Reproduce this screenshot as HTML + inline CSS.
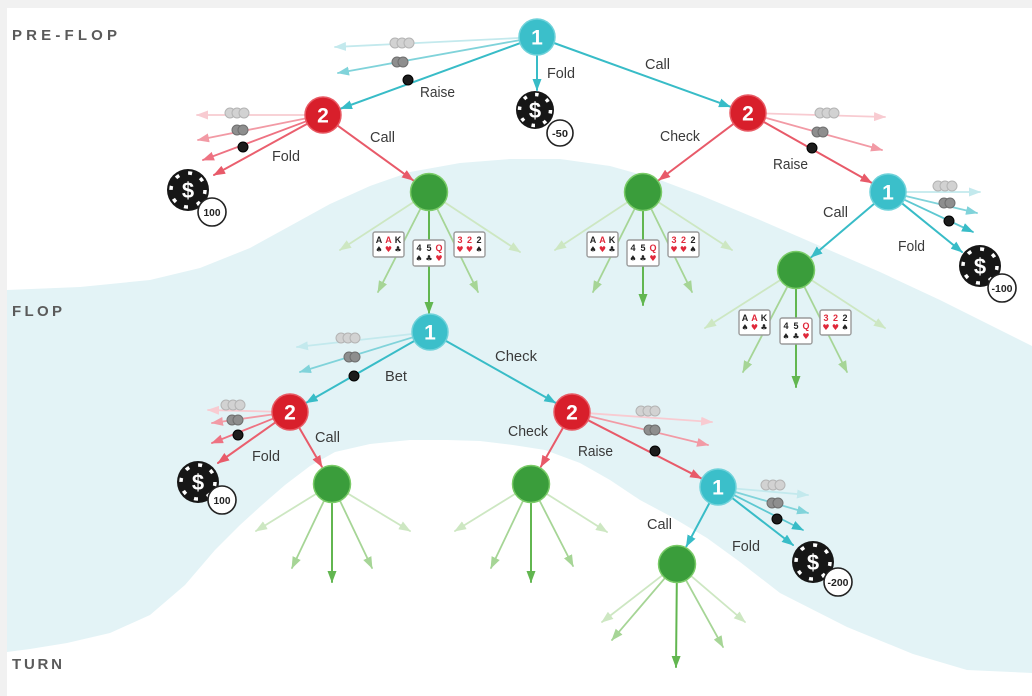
<!DOCTYPE html>
<html><head><meta charset="utf-8"><style>
html,body{margin:0;padding:0;background:#fff;}
svg{display:block;}
.lbl{font-family:"Liberation Sans",Arial,sans-serif;font-size:15px;fill:#3a3a3a;}
.sec{font-family:"Liberation Sans",Arial,sans-serif;font-size:15px;font-weight:bold;fill:#5a5a5a;}
.num{font-family:"Liberation Sans",Arial,sans-serif;font-size:21px;font-weight:bold;fill:#fff;text-anchor:middle;}
.dol{font-family:"Liberation Sans",Arial,sans-serif;font-size:22px;font-weight:bold;fill:#fff;text-anchor:middle;}
.bdg{font-family:"Liberation Sans",Arial,sans-serif;font-size:10px;font-weight:bold;fill:#222;text-anchor:middle;}
.r{font-family:"Liberation Sans",Arial,sans-serif;font-size:9px;font-weight:bold;text-anchor:middle;}
.s{font-family:"DejaVu Sans",sans-serif;font-size:8px;text-anchor:middle;}
.k{fill:#222;} .h{fill:#e0283a;}
</style></head><body>
<svg width="1032" height="696" viewBox="0 0 1032 696" xmlns="http://www.w3.org/2000/svg">
<defs>
<marker id="cD" viewBox="0 0 12 9" refX="11" refY="4.5" markerWidth="12" markerHeight="9" orient="auto" markerUnits="userSpaceOnUse"><path d="M0,0 L12,4.5 L0,9 z" fill="#38bcc7"/></marker>
<marker id="cM" viewBox="0 0 12 9" refX="11" refY="4.5" markerWidth="12" markerHeight="9" orient="auto" markerUnits="userSpaceOnUse"><path d="M0,0 L12,4.5 L0,9 z" fill="#80d3da"/></marker>
<marker id="cL" viewBox="0 0 12 9" refX="11" refY="4.5" markerWidth="12" markerHeight="9" orient="auto" markerUnits="userSpaceOnUse"><path d="M0,0 L12,4.5 L0,9 z" fill="#c3e9ed"/></marker>
<marker id="rD" viewBox="0 0 12 9" refX="11" refY="4.5" markerWidth="12" markerHeight="9" orient="auto" markerUnits="userSpaceOnUse"><path d="M0,0 L12,4.5 L0,9 z" fill="#e85a69"/></marker>
<marker id="rF" viewBox="0 0 12 9" refX="11" refY="4.5" markerWidth="12" markerHeight="9" orient="auto" markerUnits="userSpaceOnUse"><path d="M0,0 L12,4.5 L0,9 z" fill="#ee7282"/></marker>
<marker id="rM" viewBox="0 0 12 9" refX="11" refY="4.5" markerWidth="12" markerHeight="9" orient="auto" markerUnits="userSpaceOnUse"><path d="M0,0 L12,4.5 L0,9 z" fill="#f29aa5"/></marker>
<marker id="rL" viewBox="0 0 12 9" refX="11" refY="4.5" markerWidth="12" markerHeight="9" orient="auto" markerUnits="userSpaceOnUse"><path d="M0,0 L12,4.5 L0,9 z" fill="#f8cbd1"/></marker>
<marker id="gD" viewBox="0 0 12 9" refX="11" refY="4.5" markerWidth="12" markerHeight="9" orient="auto" markerUnits="userSpaceOnUse"><path d="M0,0 L12,4.5 L0,9 z" fill="#62b650"/></marker>
<marker id="gM" viewBox="0 0 12 9" refX="11" refY="4.5" markerWidth="12" markerHeight="9" orient="auto" markerUnits="userSpaceOnUse"><path d="M0,0 L12,4.5 L0,9 z" fill="#a6d596"/></marker>
<marker id="gL" viewBox="0 0 12 9" refX="11" refY="4.5" markerWidth="12" markerHeight="9" orient="auto" markerUnits="userSpaceOnUse"><path d="M0,0 L12,4.5 L0,9 z" fill="#cde7c2"/></marker>
</defs>

<!-- frame -->
<rect x="0" y="0" width="1032" height="696" fill="#ffffff"/>
<rect x="0" y="0" width="1032" height="8" fill="#f1f1f1"/>
<rect x="0" y="0" width="7" height="696" fill="#f1f1f1"/>

<!-- blue band -->
<path fill="#e3f3f6" d="M7,290 L80,287 L150,280 L200,268 L250,248 L290,226 L330,204 L370,186 L410,172 L460,163 L510,159 L560,159 L610,166 L660,180 L700,195 L760,220 L820,246 L880,272 L940,300 L1000,330 L1032,346
L1032,673 L967,670 L913,654 L847,627 L780,593 L740,562 L707,538 L670,516 L640,500 L610,480 L580,463 L545,450 L513,445 L480,441 L447,440 L410,440 L370,444 L335,452 L310,466 L285,485 L262,505 L240,525 L215,550 L185,585 L150,615 L110,633 L67,643 L30,649 L7,652 Z"/>

<!-- section labels -->
<text class="sec" x="12" y="40" textLength="105" lengthAdjust="spacing">PRE-FLOP</text>
<text class="sec" x="12" y="316" textLength="50" lengthAdjust="spacing">FLOP</text>
<text class="sec" x="12" y="669" textLength="50" lengthAdjust="spacing">TURN</text>

<g fill="none" stroke-linecap="round">
<!-- A: P1 top -->
<line x1="519" y1="38" x2="335" y2="47" stroke="#c3e9ed" stroke-width="1.8" marker-end="url(#cL)"/>
<line x1="519.3" y1="40.2" x2="338" y2="73" stroke="#80d3da" stroke-width="1.8" marker-end="url(#cM)"/>
<line x1="520" y1="43.2" x2="341" y2="108.5" stroke="#38bcc7" stroke-width="2" marker-end="url(#cD)"/>
<line x1="537" y1="55" x2="537" y2="90" stroke="#38bcc7" stroke-width="2" marker-end="url(#cD)"/>
<line x1="554" y1="43" x2="730" y2="106.6" stroke="#38bcc7" stroke-width="2" marker-end="url(#cD)"/>

<!-- B: R2 left -->
<line x1="305" y1="115" x2="197" y2="115" stroke="#f8cbd1" stroke-width="1.8" marker-end="url(#rL)"/>
<line x1="305.3" y1="118.5" x2="198" y2="140" stroke="#f29aa5" stroke-width="1.8" marker-end="url(#rM)"/>
<line x1="306.2" y1="121.3" x2="203" y2="160" stroke="#ee7282" stroke-width="1.8" marker-end="url(#rF)"/>
<line x1="307.3" y1="123.7" x2="214" y2="175" stroke="#ea5f6e" stroke-width="2" marker-end="url(#rD)"/>
<line x1="337.6" y1="125.6" x2="413" y2="180.2" stroke="#e85a69" stroke-width="2" marker-end="url(#rD)"/>

<!-- C: R2 right -->
<line x1="733.6" y1="123.8" x2="659" y2="180" stroke="#e85a69" stroke-width="2" marker-end="url(#rD)"/>
<line x1="766" y1="113.5" x2="885" y2="117" stroke="#f8cbd1" stroke-width="1.8" marker-end="url(#rL)"/>
<line x1="765.4" y1="117.8" x2="882" y2="150" stroke="#f29aa5" stroke-width="1.8" marker-end="url(#rM)"/>
<line x1="763.7" y1="121.9" x2="871.5" y2="182.7" stroke="#e85a69" stroke-width="2" marker-end="url(#rD)"/>

<!-- D: P1 right -->
<line x1="906" y1="192" x2="980" y2="192" stroke="#c3e9ed" stroke-width="1.8" marker-end="url(#cL)"/>
<line x1="905.5" y1="196" x2="977" y2="213" stroke="#80d3da" stroke-width="1.8" marker-end="url(#cM)"/>
<line x1="904.3" y1="199.7" x2="973" y2="232" stroke="#5ec8d1" stroke-width="1.8" marker-end="url(#cD)"/>
<line x1="902" y1="203.3" x2="962" y2="252" stroke="#38bcc7" stroke-width="2" marker-end="url(#cD)"/>
<line x1="874.3" y1="203.6" x2="811.3" y2="257.1" stroke="#38bcc7" stroke-width="2" marker-end="url(#cD)"/>

<!-- G1 fan -->
<line x1="413.1" y1="202.4" x2="340" y2="250" stroke="#cde7c2" stroke-width="1.8" marker-end="url(#gL)"/>
<line x1="420.4" y1="208.9" x2="378" y2="292" stroke="#a6d596" stroke-width="1.8" marker-end="url(#gM)"/>
<line x1="429" y1="211" x2="429" y2="313" stroke="#62b650" stroke-width="2" marker-end="url(#gD)"/>
<line x1="437.4" y1="209.1" x2="478" y2="292" stroke="#a6d596" stroke-width="1.8" marker-end="url(#gM)"/>
<line x1="444.9" y1="202.5" x2="520" y2="252" stroke="#cde7c2" stroke-width="1.8" marker-end="url(#gL)"/>

<!-- G2 fan -->
<line x1="626.3" y1="203" x2="555" y2="250" stroke="#cde7c2" stroke-width="1.8" marker-end="url(#gL)"/>
<line x1="634.1" y1="209.9" x2="593" y2="292" stroke="#a6d596" stroke-width="1.8" marker-end="url(#gM)"/>
<line x1="643" y1="211" x2="643" y2="305" stroke="#62b650" stroke-width="2" marker-end="url(#gD)"/>
<line x1="651.8" y1="210" x2="692" y2="292" stroke="#a6d596" stroke-width="1.8" marker-end="url(#gM)"/>
<line x1="659.8" y1="203" x2="732" y2="250" stroke="#cde7c2" stroke-width="1.8" marker-end="url(#gL)"/>

<!-- G3 fan -->
<line x1="780" y1="280.2" x2="705" y2="328" stroke="#cde7c2" stroke-width="1.8" marker-end="url(#gL)"/>
<line x1="787.2" y1="286.9" x2="743" y2="372" stroke="#a6d596" stroke-width="1.8" marker-end="url(#gM)"/>
<line x1="796" y1="289" x2="796" y2="387" stroke="#62b650" stroke-width="2" marker-end="url(#gD)"/>
<line x1="804.5" y1="287" x2="847" y2="372" stroke="#a6d596" stroke-width="1.8" marker-end="url(#gM)"/>
<line x1="811.9" y1="280.4" x2="885" y2="328" stroke="#cde7c2" stroke-width="1.8" marker-end="url(#gL)"/>

<!-- E: P1 flop -->
<line x1="412.1" y1="334" x2="297" y2="347" stroke="#c3e9ed" stroke-width="1.8" marker-end="url(#cL)"/>
<line x1="412.8" y1="337.3" x2="300" y2="372" stroke="#80d3da" stroke-width="1.8" marker-end="url(#cM)"/>
<line x1="414.4" y1="340.9" x2="306.5" y2="402.6" stroke="#38bcc7" stroke-width="2" marker-end="url(#cD)"/>
<line x1="445.7" y1="340.8" x2="555.4" y2="402.7" stroke="#38bcc7" stroke-width="2" marker-end="url(#cD)"/>

<!-- F: R2 flop left -->
<line x1="272" y1="411.6" x2="208" y2="410" stroke="#f8cbd1" stroke-width="1.8" marker-end="url(#rL)"/>
<line x1="272.2" y1="414.5" x2="212" y2="423" stroke="#f29aa5" stroke-width="1.8" marker-end="url(#rM)"/>
<line x1="273.3" y1="418.6" x2="212" y2="443" stroke="#ee7282" stroke-width="1.8" marker-end="url(#rF)"/>
<line x1="275.3" y1="422.4" x2="218" y2="463" stroke="#ea5f6e" stroke-width="2" marker-end="url(#rD)"/>
<line x1="299.1" y1="427.5" x2="321.9" y2="466.7" stroke="#e85a69" stroke-width="2" marker-end="url(#rD)"/>

<!-- H: R2 flop right -->
<line x1="563.1" y1="427.6" x2="540.9" y2="466.6" stroke="#e85a69" stroke-width="2" marker-end="url(#rD)"/>
<line x1="590" y1="413.3" x2="712" y2="422" stroke="#f8cbd1" stroke-width="1.8" marker-end="url(#rL)"/>
<line x1="589.5" y1="416.2" x2="708" y2="445" stroke="#f29aa5" stroke-width="1.8" marker-end="url(#rM)"/>
<line x1="588" y1="420.2" x2="701.1" y2="478.3" stroke="#e85a69" stroke-width="2" marker-end="url(#rD)"/>

<!-- I: P1 turn -->
<line x1="736" y1="488.6" x2="808" y2="495" stroke="#c3e9ed" stroke-width="1.8" marker-end="url(#cL)"/>
<line x1="735.3" y1="492" x2="808" y2="513" stroke="#80d3da" stroke-width="1.8" marker-end="url(#cM)"/>
<line x1="734.1" y1="495.1" x2="803" y2="530" stroke="#5ec8d1" stroke-width="1.8" marker-end="url(#cD)"/>
<line x1="732.2" y1="498" x2="793" y2="545" stroke="#38bcc7" stroke-width="2" marker-end="url(#cD)"/>
<line x1="709.5" y1="502.9" x2="686.4" y2="546.3" stroke="#38bcc7" stroke-width="2" marker-end="url(#cD)"/>

<!-- G4 fan -->
<line x1="315.9" y1="494" x2="256" y2="531" stroke="#cde7c2" stroke-width="1.8" marker-end="url(#gL)"/>
<line x1="323.8" y1="501.2" x2="292" y2="568" stroke="#a6d596" stroke-width="1.8" marker-end="url(#gM)"/>
<line x1="332" y1="503" x2="332" y2="582" stroke="#62b650" stroke-width="2" marker-end="url(#gD)"/>
<line x1="340.2" y1="501.2" x2="372" y2="568" stroke="#a6d596" stroke-width="1.8" marker-end="url(#gM)"/>
<line x1="348.3" y1="493.8" x2="410" y2="531" stroke="#cde7c2" stroke-width="1.8" marker-end="url(#gL)"/>

<!-- G5 fan -->
<line x1="514.9" y1="494" x2="455" y2="531" stroke="#cde7c2" stroke-width="1.8" marker-end="url(#gL)"/>
<line x1="522.8" y1="501.2" x2="491" y2="568" stroke="#a6d596" stroke-width="1.8" marker-end="url(#gM)"/>
<line x1="531" y1="503" x2="531" y2="582" stroke="#62b650" stroke-width="2" marker-end="url(#gD)"/>
<line x1="539.7" y1="500.9" x2="573" y2="566" stroke="#a6d596" stroke-width="1.8" marker-end="url(#gM)"/>
<line x1="547.1" y1="494.1" x2="607" y2="532" stroke="#cde7c2" stroke-width="1.8" marker-end="url(#gL)"/>

<!-- G6 fan -->
<line x1="662" y1="575.6" x2="602" y2="622" stroke="#cde7c2" stroke-width="1.8" marker-end="url(#gL)"/>
<line x1="664.6" y1="578.4" x2="612" y2="640" stroke="#a6d596" stroke-width="1.8" marker-end="url(#gM)"/>
<line x1="676.8" y1="583" x2="676" y2="667" stroke="#62b650" stroke-width="2" marker-end="url(#gD)"/>
<line x1="686.2" y1="580.6" x2="723" y2="647" stroke="#a6d596" stroke-width="1.8" marker-end="url(#gM)"/>
<line x1="691.5" y1="576.3" x2="745" y2="622" stroke="#cde7c2" stroke-width="1.8" marker-end="url(#gL)"/>
</g>

<!-- small chip stacks: light(3), medium(2), black(1) -->
<g stroke-width="1">
<!-- A -->
<g fill="#d2d2d2" stroke="#b4b4b4"><circle cx="395" cy="43" r="5"/><circle cx="402" cy="43" r="5"/><circle cx="409" cy="43" r="5"/></g>
<g fill="#8e8e8e" stroke="#6e6e6e"><circle cx="397" cy="62" r="5"/><circle cx="403" cy="62" r="5"/></g>
<circle cx="408" cy="80" r="5" fill="#1c1c1c" stroke="#000"/>
<!-- B -->
<g fill="#d2d2d2" stroke="#b4b4b4"><circle cx="230" cy="113" r="5"/><circle cx="237" cy="113" r="5"/><circle cx="244" cy="113" r="5"/></g>
<g fill="#8e8e8e" stroke="#6e6e6e"><circle cx="237" cy="130" r="5"/><circle cx="243" cy="130" r="5"/></g>
<circle cx="243" cy="147" r="5" fill="#1c1c1c" stroke="#000"/>
<!-- C -->
<g fill="#d2d2d2" stroke="#b4b4b4"><circle cx="820" cy="113" r="5"/><circle cx="827" cy="113" r="5"/><circle cx="834" cy="113" r="5"/></g>
<g fill="#8e8e8e" stroke="#6e6e6e"><circle cx="817" cy="132" r="5"/><circle cx="823" cy="132" r="5"/></g>
<circle cx="812" cy="148" r="5" fill="#1c1c1c" stroke="#000"/>
<!-- D -->
<g fill="#d2d2d2" stroke="#b4b4b4"><circle cx="938" cy="186" r="5"/><circle cx="945" cy="186" r="5"/><circle cx="952" cy="186" r="5"/></g>
<g fill="#8e8e8e" stroke="#6e6e6e"><circle cx="944" cy="203" r="5"/><circle cx="950" cy="203" r="5"/></g>
<circle cx="949" cy="221" r="5" fill="#1c1c1c" stroke="#000"/>
<!-- E -->
<g fill="#d2d2d2" stroke="#b4b4b4"><circle cx="341" cy="338" r="5"/><circle cx="348" cy="338" r="5"/><circle cx="355" cy="338" r="5"/></g>
<g fill="#8e8e8e" stroke="#6e6e6e"><circle cx="349" cy="357" r="5"/><circle cx="355" cy="357" r="5"/></g>
<circle cx="354" cy="376" r="5" fill="#1c1c1c" stroke="#000"/>
<!-- F -->
<g fill="#d2d2d2" stroke="#b4b4b4"><circle cx="226" cy="405" r="5"/><circle cx="233" cy="405" r="5"/><circle cx="240" cy="405" r="5"/></g>
<g fill="#8e8e8e" stroke="#6e6e6e"><circle cx="232" cy="420" r="5"/><circle cx="238" cy="420" r="5"/></g>
<circle cx="238" cy="435" r="5" fill="#1c1c1c" stroke="#000"/>
<!-- H -->
<g fill="#d2d2d2" stroke="#b4b4b4"><circle cx="641" cy="411" r="5"/><circle cx="648" cy="411" r="5"/><circle cx="655" cy="411" r="5"/></g>
<g fill="#8e8e8e" stroke="#6e6e6e"><circle cx="649" cy="430" r="5"/><circle cx="655" cy="430" r="5"/></g>
<circle cx="655" cy="451" r="5" fill="#1c1c1c" stroke="#000"/>
<!-- I -->
<g fill="#d2d2d2" stroke="#b4b4b4"><circle cx="766" cy="485" r="5"/><circle cx="773" cy="485" r="5"/><circle cx="780" cy="485" r="5"/></g>
<g fill="#8e8e8e" stroke="#6e6e6e"><circle cx="772" cy="503" r="5"/><circle cx="778" cy="503" r="5"/></g>
<circle cx="777" cy="519" r="5" fill="#1c1c1c" stroke="#000"/>
</g>

<!-- money chips -->
<g>
<circle cx="535" cy="110" r="19" fill="#161616"/>
<circle cx="535" cy="110" r="15.5" fill="none" stroke="#fff" stroke-width="3.5" stroke-dasharray="3.5 8.67"/>
<text class="dol" x="535" y="118">$</text>
<circle cx="560" cy="133" r="13" fill="#fff" stroke="#222" stroke-width="1.6"/>
<text class="bdg" x="560" y="137" textLength="16" lengthAdjust="spacingAndGlyphs">-50</text>

<circle cx="188" cy="190" r="21" fill="#161616"/>
<circle cx="188" cy="190" r="17" fill="none" stroke="#fff" stroke-width="3.5" stroke-dasharray="4 9.35"/>
<text class="dol" x="188" y="198">$</text>
<circle cx="212" cy="212" r="14" fill="#fff" stroke="#222" stroke-width="1.6"/>
<text class="bdg" x="212" y="216" textLength="17" lengthAdjust="spacingAndGlyphs">100</text>

<circle cx="980" cy="266" r="21" fill="#161616"/>
<circle cx="980" cy="266" r="17" fill="none" stroke="#fff" stroke-width="3.5" stroke-dasharray="4 9.35"/>
<text class="dol" x="980" y="274">$</text>
<circle cx="1002" cy="288" r="14" fill="#fff" stroke="#222" stroke-width="1.6"/>
<text class="bdg" x="1002" y="292" textLength="21" lengthAdjust="spacingAndGlyphs">-100</text>

<circle cx="198" cy="482" r="21" fill="#161616"/>
<circle cx="198" cy="482" r="17" fill="none" stroke="#fff" stroke-width="3.5" stroke-dasharray="4 9.35"/>
<text class="dol" x="198" y="490">$</text>
<circle cx="222" cy="500" r="14" fill="#fff" stroke="#222" stroke-width="1.6"/>
<text class="bdg" x="222" y="504" textLength="17" lengthAdjust="spacingAndGlyphs">100</text>

<circle cx="813" cy="562" r="21" fill="#161616"/>
<circle cx="813" cy="562" r="17" fill="none" stroke="#fff" stroke-width="3.5" stroke-dasharray="4 9.35"/>
<text class="dol" x="813" y="570">$</text>
<circle cx="838" cy="582" r="14" fill="#fff" stroke="#222" stroke-width="1.6"/>
<text class="bdg" x="838" y="586" textLength="21" lengthAdjust="spacingAndGlyphs">-200</text>
</g>

<!-- nodes -->
<g>
<circle cx="537" cy="37" r="18" fill="#3bbfca" stroke="#6fd2da" stroke-width="1.5"/><text class="num" x="537" y="44.5">1</text>
<circle cx="323" cy="115" r="18" fill="#d81f2b" stroke="#e85a64" stroke-width="1.5"/><text class="num" x="323" y="122.5">2</text>
<circle cx="748" cy="113" r="18" fill="#d81f2b" stroke="#e85a64" stroke-width="1.5"/><text class="num" x="748" y="120.5">2</text>
<circle cx="888" cy="192" r="18" fill="#3bbfca" stroke="#6fd2da" stroke-width="1.5"/><text class="num" x="888" y="199.5">1</text>
<circle cx="430" cy="332" r="18" fill="#3bbfca" stroke="#6fd2da" stroke-width="1.5"/><text class="num" x="430" y="339.5">1</text>
<circle cx="290" cy="412" r="18" fill="#d81f2b" stroke="#e85a64" stroke-width="1.5"/><text class="num" x="290" y="419.5">2</text>
<circle cx="572" cy="412" r="18" fill="#d81f2b" stroke="#e85a64" stroke-width="1.5"/><text class="num" x="572" y="419.5">2</text>
<circle cx="718" cy="487" r="18" fill="#3bbfca" stroke="#6fd2da" stroke-width="1.5"/><text class="num" x="718" y="494.5">1</text>

<circle cx="429" cy="192" r="18.5" fill="#3a9d3b" stroke="#7acb68" stroke-width="1.5"/>
<circle cx="643" cy="192" r="18.5" fill="#3a9d3b" stroke="#7acb68" stroke-width="1.5"/>
<circle cx="796" cy="270" r="18.5" fill="#3a9d3b" stroke="#7acb68" stroke-width="1.5"/>
<circle cx="332" cy="484" r="18.5" fill="#3a9d3b" stroke="#7acb68" stroke-width="1.5"/>
<circle cx="531" cy="484" r="18.5" fill="#3a9d3b" stroke="#7acb68" stroke-width="1.5"/>
<circle cx="677" cy="564" r="18.5" fill="#3a9d3b" stroke="#7acb68" stroke-width="1.5"/>
</g>

<!-- edge labels -->
<g class="lbl">
<text class="lbl" x="420" y="97" textLength="35" lengthAdjust="spacingAndGlyphs">Raise</text>
<text class="lbl" x="547" y="78" textLength="28" lengthAdjust="spacingAndGlyphs">Fold</text>
<text class="lbl" x="645" y="69" textLength="25" lengthAdjust="spacingAndGlyphs">Call</text>
<text class="lbl" x="272" y="161" textLength="28" lengthAdjust="spacingAndGlyphs">Fold</text>
<text class="lbl" x="370" y="142" textLength="25" lengthAdjust="spacingAndGlyphs">Call</text>
<text class="lbl" x="660" y="141" textLength="40" lengthAdjust="spacingAndGlyphs">Check</text>
<text class="lbl" x="773" y="169" textLength="35" lengthAdjust="spacingAndGlyphs">Raise</text>
<text class="lbl" x="823" y="217" textLength="25" lengthAdjust="spacingAndGlyphs">Call</text>
<text class="lbl" x="898" y="251" textLength="27" lengthAdjust="spacingAndGlyphs">Fold</text>
<text class="lbl" x="385" y="381" textLength="22" lengthAdjust="spacingAndGlyphs">Bet</text>
<text class="lbl" x="495" y="361" textLength="42" lengthAdjust="spacingAndGlyphs">Check</text>
<text class="lbl" x="252" y="461" textLength="28" lengthAdjust="spacingAndGlyphs">Fold</text>
<text class="lbl" x="315" y="442" textLength="25" lengthAdjust="spacingAndGlyphs">Call</text>
<text class="lbl" x="508" y="436" textLength="40" lengthAdjust="spacingAndGlyphs">Check</text>
<text class="lbl" x="578" y="456" textLength="35" lengthAdjust="spacingAndGlyphs">Raise</text>
<text class="lbl" x="647" y="529" textLength="25" lengthAdjust="spacingAndGlyphs">Call</text>
<text class="lbl" x="732" y="551" textLength="28" lengthAdjust="spacingAndGlyphs">Fold</text>
</g>

<!-- cards: G1 -->
<g>
<rect x="373" y="232" width="31" height="25" rx="2" fill="#fff" stroke="#9a9a9a" stroke-width="1.4"/>
<text class="r k" x="379" y="243">A</text><text class="s k" x="379" y="252">♠</text>
<text class="r h" x="388.5" y="243">A</text><text class="s h" x="388.5" y="252">♥</text>
<text class="r k" x="398" y="243">K</text><text class="s k" x="398" y="252">♣</text>

<rect x="413" y="240" width="32" height="26" rx="2" fill="#fff" stroke="#9a9a9a" stroke-width="1.4"/>
<text class="r k" x="419" y="251">4</text><text class="s k" x="419" y="261">♠</text>
<text class="r k" x="429" y="251">5</text><text class="s k" x="429" y="261">♣</text>
<text class="r h" x="439" y="251">Q</text><text class="s h" x="439" y="261">♥</text>

<rect x="454" y="232" width="31" height="25" rx="2" fill="#fff" stroke="#9a9a9a" stroke-width="1.4"/>
<text class="r h" x="460" y="243">3</text><text class="s h" x="460" y="252">♥</text>
<text class="r h" x="469.5" y="243">2</text><text class="s h" x="469.5" y="252">♥</text>
<text class="r k" x="479" y="243">2</text><text class="s k" x="479" y="252">♠</text>
</g>
<!-- cards: G2 -->
<g>
<rect x="587" y="232" width="31" height="25" rx="2" fill="#fff" stroke="#9a9a9a" stroke-width="1.4"/>
<text class="r k" x="593" y="243">A</text><text class="s k" x="593" y="252">♠</text>
<text class="r h" x="602.5" y="243">A</text><text class="s h" x="602.5" y="252">♥</text>
<text class="r k" x="612" y="243">K</text><text class="s k" x="612" y="252">♣</text>

<rect x="627" y="240" width="32" height="26" rx="2" fill="#fff" stroke="#9a9a9a" stroke-width="1.4"/>
<text class="r k" x="633" y="251">4</text><text class="s k" x="633" y="261">♠</text>
<text class="r k" x="643" y="251">5</text><text class="s k" x="643" y="261">♣</text>
<text class="r h" x="653" y="251">Q</text><text class="s h" x="653" y="261">♥</text>

<rect x="668" y="232" width="31" height="25" rx="2" fill="#fff" stroke="#9a9a9a" stroke-width="1.4"/>
<text class="r h" x="674" y="243">3</text><text class="s h" x="674" y="252">♥</text>
<text class="r h" x="683.5" y="243">2</text><text class="s h" x="683.5" y="252">♥</text>
<text class="r k" x="693" y="243">2</text><text class="s k" x="693" y="252">♠</text>
</g>
<!-- cards: G3 -->
<g>
<rect x="739" y="310" width="31" height="25" rx="2" fill="#fff" stroke="#9a9a9a" stroke-width="1.4"/>
<text class="r k" x="745" y="321">A</text><text class="s k" x="745" y="330">♠</text>
<text class="r h" x="754.5" y="321">A</text><text class="s h" x="754.5" y="330">♥</text>
<text class="r k" x="764" y="321">K</text><text class="s k" x="764" y="330">♣</text>

<rect x="780" y="318" width="32" height="26" rx="2" fill="#fff" stroke="#9a9a9a" stroke-width="1.4"/>
<text class="r k" x="786" y="329">4</text><text class="s k" x="786" y="339">♠</text>
<text class="r k" x="796" y="329">5</text><text class="s k" x="796" y="339">♣</text>
<text class="r h" x="806" y="329">Q</text><text class="s h" x="806" y="339">♥</text>

<rect x="820" y="310" width="31" height="25" rx="2" fill="#fff" stroke="#9a9a9a" stroke-width="1.4"/>
<text class="r h" x="826" y="321">3</text><text class="s h" x="826" y="330">♥</text>
<text class="r h" x="835.5" y="321">2</text><text class="s h" x="835.5" y="330">♥</text>
<text class="r k" x="845" y="321">2</text><text class="s k" x="845" y="330">♠</text>
</g>
</svg>
</body></html>
